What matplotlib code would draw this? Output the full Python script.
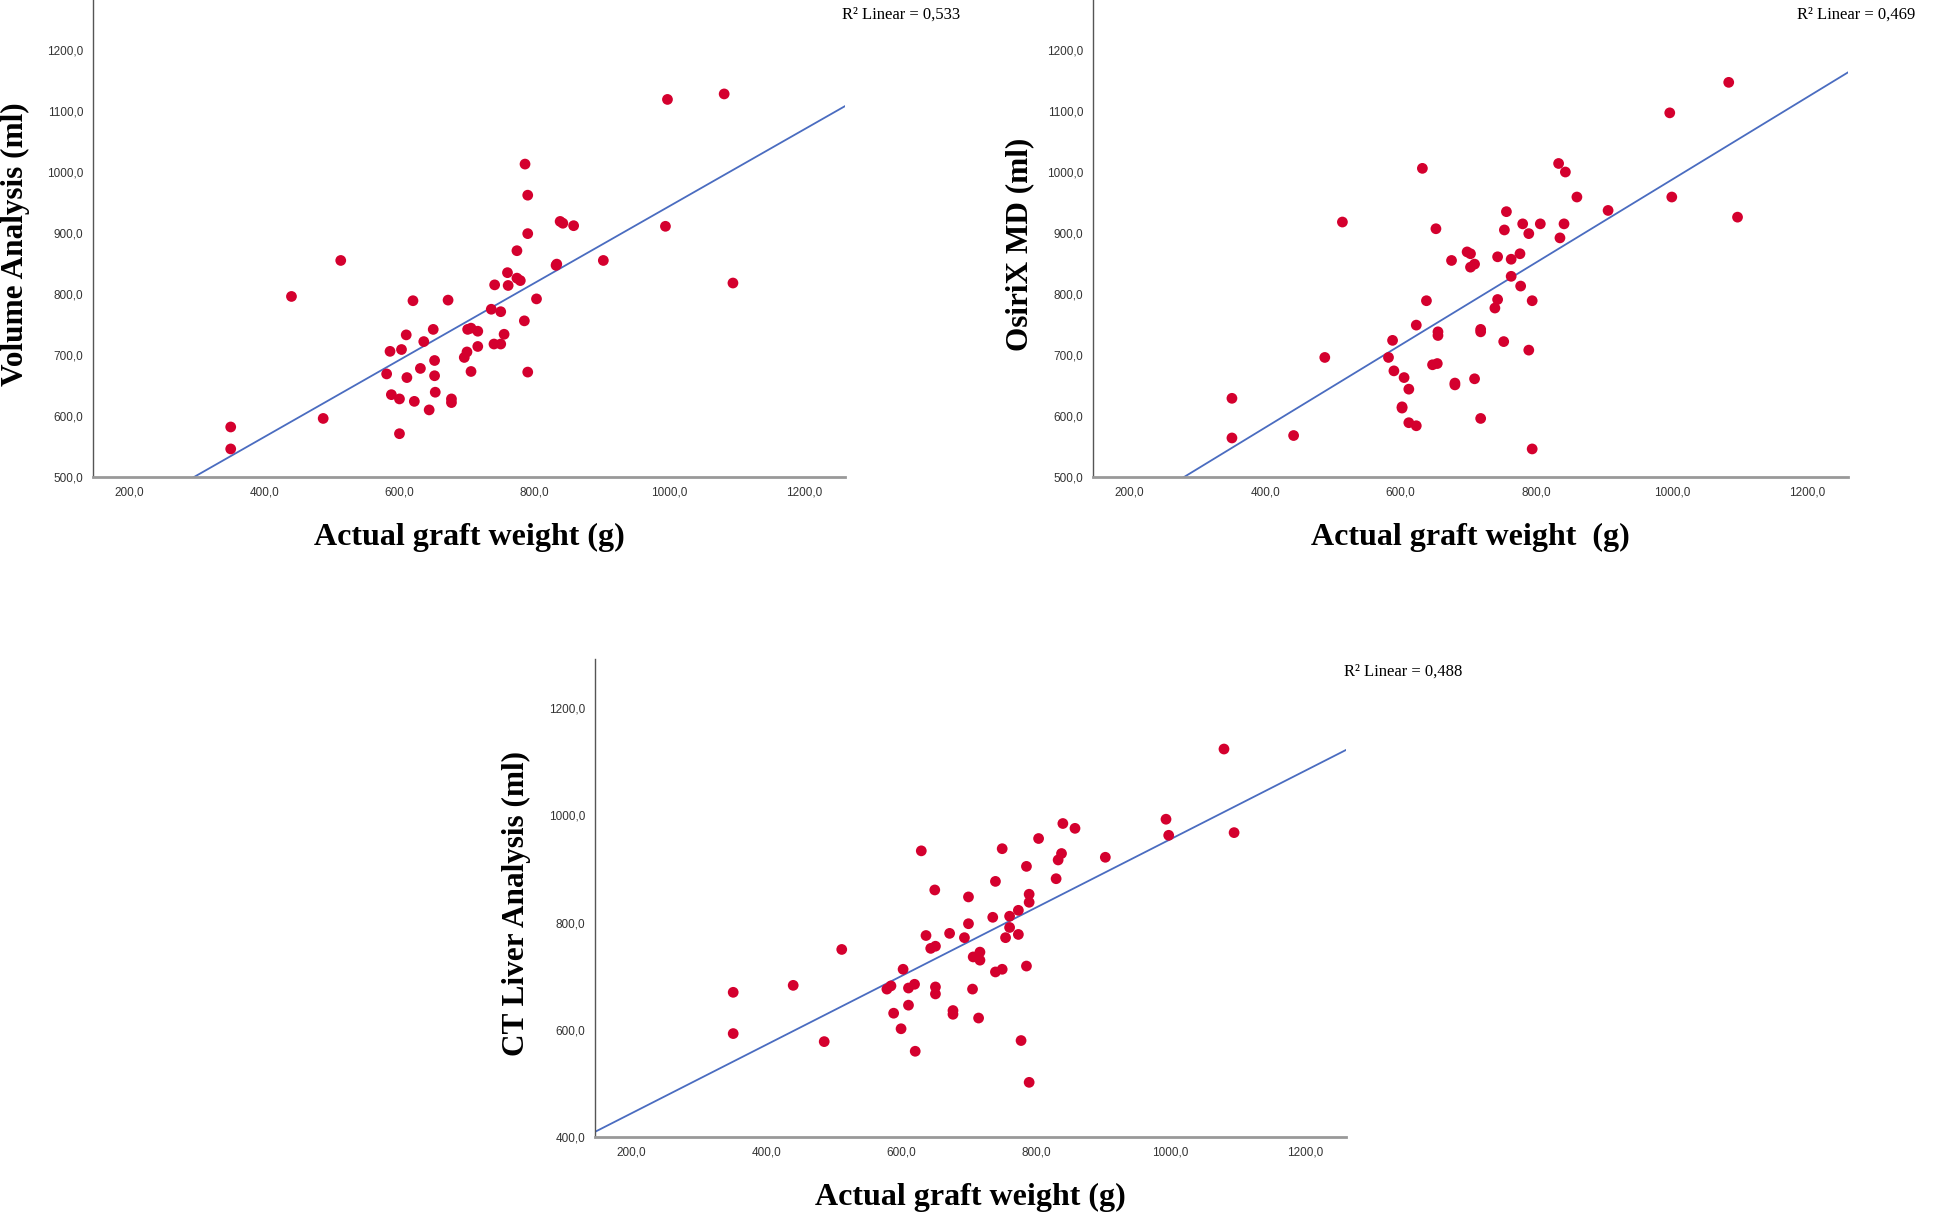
import numpy as np
import matplotlib
matplotlib.use("Agg")
import matplotlib.pyplot as plt

# Actual graft weight (g) vs. volume estimates (ml)
x_va = [350, 350, 440, 487, 513, 581, 586, 588, 600, 603, 600, 610, 611, 620, 622, 631, 636, 644, 650, 652,
        652, 653, 672, 677, 677, 696, 700, 701, 706, 706, 716, 716, 736, 741, 740, 750, 750, 755, 760, 761,
        774, 774, 779, 785, 786, 790, 790, 790, 803, 832, 833, 838, 842, 858, 902, 994, 997, 1081, 1094]
y_va = [582, 546, 796, 596, 855, 669, 706, 635, 628, 709, 571, 733, 663, 789, 624, 678, 722, 610, 742, 691,
        666, 639, 790, 628, 622, 696, 705, 742, 744, 673, 739, 714, 775, 815, 718, 771, 718, 734, 835, 814,
        871, 826, 822, 756, 1013, 962, 899, 672, 792, 847, 849, 919, 916, 912, 855, 911, 1119, 1128, 818]

x_ox = [351, 351, 442, 488, 514, 582, 588, 590, 602, 602, 605, 612, 612, 623, 623, 632, 638, 647, 652, 654,
        655, 655, 675, 680, 680, 698, 703, 703, 709, 709, 718, 718, 718, 739, 743, 743, 752, 753, 756, 763,
        763, 776, 777, 780, 789, 789, 794, 794, 806, 833, 835, 841, 843, 860, 906, 997, 1000, 1084, 1097]
y_ox = [629, 564, 568, 696, 918, 696, 724, 674, 613, 615, 663, 644, 589, 584, 749, 1006, 789, 684, 907, 686,
        738, 732, 855, 654, 651, 869, 866, 844, 849, 661, 742, 738, 596, 777, 791, 861, 722, 905, 935, 857,
        829, 866, 813, 915, 708, 899, 789, 546, 915, 1014, 892, 915, 1000, 959, 937, 1097, 959, 1147, 926]

x_ct = [351, 351, 440, 486, 512, 579, 585, 589, 600, 603, 611, 611, 620, 621, 630, 637, 644, 650, 651, 651,
        651, 672, 677, 677, 694, 700, 700, 706, 707, 715, 717, 717, 736, 740, 740, 750, 750, 755, 761, 761,
        774, 774, 778, 786, 786, 790, 790, 790, 804, 830, 833, 838, 840, 858, 903, 993, 997, 1079, 1094]
y_ct = [670, 593, 683, 578, 750, 676, 682, 631, 602, 713, 678, 646, 685, 560, 934, 776, 752, 861, 756, 680,
        667, 780, 636, 629, 772, 848, 798, 676, 736, 622, 745, 730, 810, 877, 708, 938, 713, 772, 812, 791,
        823, 778, 580, 905, 719, 853, 838, 502, 957, 882, 917, 929, 985, 976, 922, 993, 963, 1124, 968]

panels = [
    ("Volume Analysis (ml)", "Actual graft weight (g)", "0,533", x_va, y_va),
    ("OsiriX MD (ml)", "Actual graft weight  (g)", "0,469", x_ox, y_ox),
    ("CT Liver Analysis (ml)", "Actual graft weight (g)", "0,488", x_ct, y_ct),
]
y_ticks = [[500, 600, 700, 800, 900, 1000, 1100, 1200],
           [500, 600, 700, 800, 900, 1000, 1100, 1200],
           [400, 600, 800, 1000, 1200]]
y_lims = [(500, 1282), (500, 1282), (400, 1292)]
x_ticks = [200, 400, 600, 800, 1000, 1200]

W, H = 1960, 1212
# axes rectangles in pixels: left, right, bottom, top
rects = [(93, 845, 477, 0), (1093, 1848, 477, 0), (595, 1346, 1137, 659)]
r2_pos = [(960, 15), (1915, 15), (1462, 672)]
ylab_x = [1, 1005, 502]

fig = plt.figure(figsize=(W / 100, H / 100), dpi=100)
red = "#d4002e"
blue = "#4a6cc0"

for i, (ylab, xlab, r2, xs, ys) in enumerate(panels):
    l, r, b, t = rects[i]
    ax = fig.add_axes([l / W, 1 - b / H, (r - l) / W, (b - t) / H])
    xs = np.array(xs)
    ys = np.array(ys)
    ax.scatter(xs, ys, s=60, color=red, edgecolors="none", zorder=3)
    k, c = np.polyfit(xs, ys, 1)
    xl = np.array([140, 1270])
    ax.plot(xl, k * xl + c, color=blue, lw=1.3, zorder=2)
    ax.set_xlim(146, 1260)
    ax.set_ylim(*y_lims[i])
    ax.set_xticks(x_ticks)
    ax.set_yticks(y_ticks[i])
    ax.set_xticklabels([f"{v},0" for v in x_ticks], fontsize=8.5, family="Liberation Sans", color="#333333")
    ax.set_yticklabels([f"{v},0" for v in y_ticks[i]], fontsize=8.5, family="Liberation Sans", color="#333333")
    ax.tick_params(axis="x", length=0, pad=6.5)
    ax.tick_params(axis="y", length=0, pad=7)
    for s in ("top", "right"):
        ax.spines[s].set_visible(False)
    ax.spines["left"].set_color("#555555")
    ax.spines["left"].set_linewidth(1.0)
    ax.spines["bottom"].set_color("#999999")
    ax.spines["bottom"].set_linewidth(2.0)
    ax.set_xlabel(xlab, fontsize=23, family="Liberation Serif", fontweight="bold", labelpad=18)
    fig.text(ylab_x[i] / W, 1 - ((b + t) / 2 + 6) / H, ylab, rotation=90, ha="left", va="center",
             fontsize=22.5, family="Liberation Serif", fontweight="bold")
    fig.text(r2_pos[i][0] / W, 1 - r2_pos[i][1] / H, "R² Linear = " + r2, ha="right", va="center",
             fontsize=12, family="Liberation Serif")

fig.savefig("out.png", dpi=100)
